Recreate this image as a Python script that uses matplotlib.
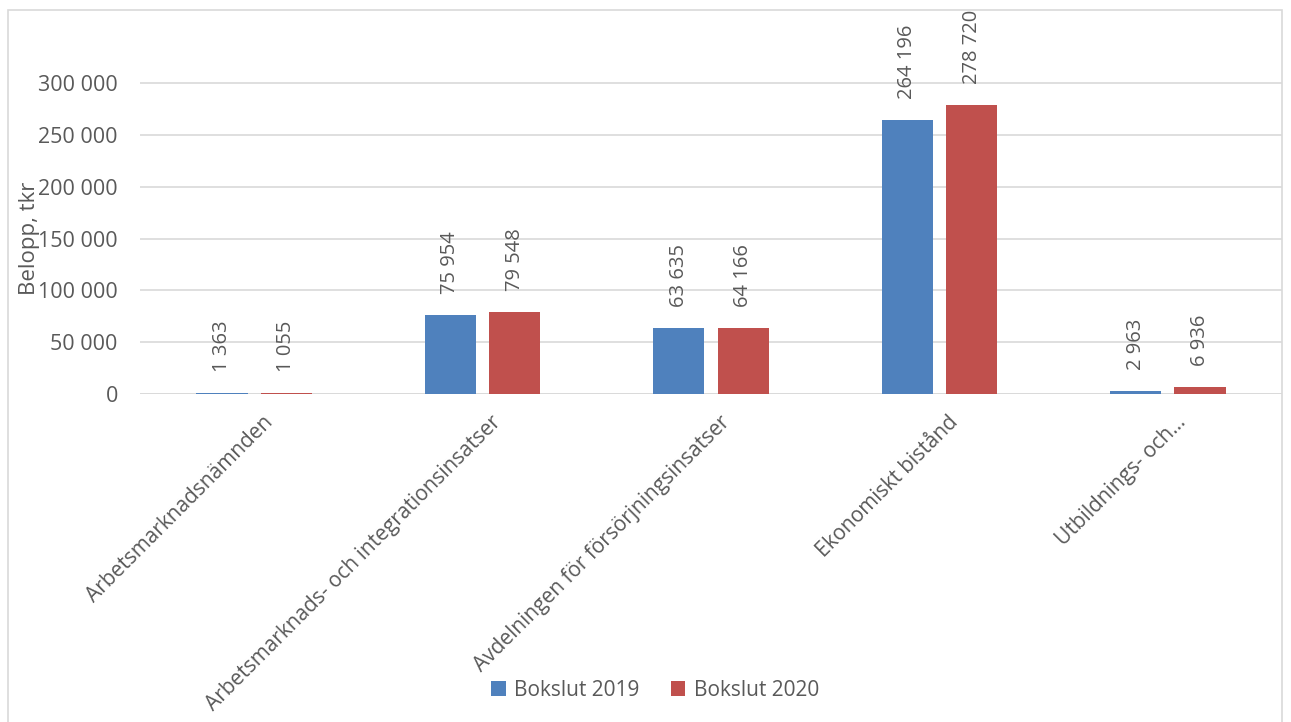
import matplotlib
matplotlib.use("Agg")
import matplotlib.pyplot as plt
import numpy as np
from matplotlib.patches import Rectangle

categories = ["Arbetsmarknadsnämnden",
              "Arbetsmarknads- och integrationsinsatser",
              "Avdelningen för försörjningsinsatser",
              "Ekonomiskt bistånd",
              "Utbildnings- och..."]
series_names = ["Bokslut 2019", "Bokslut 2020"]
values_2019 = [1363, 75954, 63635, 264196, 2963]
values_2020 = [1055, 79548, 64166, 278720, 6936]
yticks = [0, 50000, 100000, 150000, 200000, 250000, 300000]
colors = ["#4F81BD", "#C0504D"]
txt = "#595959"
font = "Open Sans"
fs = 14.5

def fmt(v):
    return f"{v:,}".replace(",", " ")

fig = plt.figure(figsize=(12.91, 7.22), dpi=100)
fig.patches.append(Rectangle((8/1291, -0.01), (1282-8)/1291, 1 - 10/722 + 0.01,
                             transform=fig.transFigure, fill=False,
                             edgecolor="#d9d9d9", linewidth=1.2))
ax = fig.add_axes([140/1291, 1-394/722, (1282-140)/1291, (394-10)/722])

x = np.arange(len(categories))
w = 0.224
off = 0.141
ymax = (394-10)/51.8*50000
for vals, o, c, name in [(values_2019, -off, colors[0], series_names[0]),
                         (values_2020, off, colors[1], series_names[1])]:
    ax.bar(x + o, vals, width=w, color=c, label=name, zorder=3)
    for xi, v in zip(x + o, vals):
        ax.annotate(fmt(v), (xi, v), xytext=(0, 15), textcoords="offset points",
                    rotation=90, ha="center", va="bottom", fontsize=fs,
                    color=txt, family=font)

ax.set_xlim(-0.5, len(categories) - 0.5)
ax.set_ylim(0, ymax)
ax.set_yticks(yticks)
ax.set_yticklabels([fmt(t) for t in yticks], fontsize=15.5, color=txt, family=font)
ax.yaxis.grid(True, color="#d9d9d9", linewidth=1.2, zorder=0)
ax.tick_params(axis="y", length=0, pad=16)
ax.tick_params(axis="x", length=0)
ax.set_xticks(x)
ax.set_xticklabels(categories, rotation=45, ha="right", rotation_mode="anchor",
                   fontsize=15, color=txt, family=font)
for lbl in ax.get_xticklabels():
    lbl.set_transform(lbl.get_transform() + matplotlib.transforms.ScaledTranslation(8/100, -13/100, fig.dpi_scale_trans))
for s in ax.spines.values():
    s.set_visible(False)
ax.axhline(0, color="#d9d9d9", linewidth=1.2, zorder=2)

fig.text(30/1291, 1-238/722, "Belopp, tkr", rotation=90, ha="center", va="center",
         fontsize=16, color=txt, family=font)

leg = fig.legend(loc="center", bbox_to_anchor=(655/1291, 1-690/722), ncol=2,
                 frameon=False, handlelength=0.7, handleheight=0.7,
                 columnspacing=1.5, handletextpad=0.4, prop={"family": font, "size": 15})
for t in leg.get_texts():
    t.set_color(txt)

fig.savefig("out.png", dpi=100)
